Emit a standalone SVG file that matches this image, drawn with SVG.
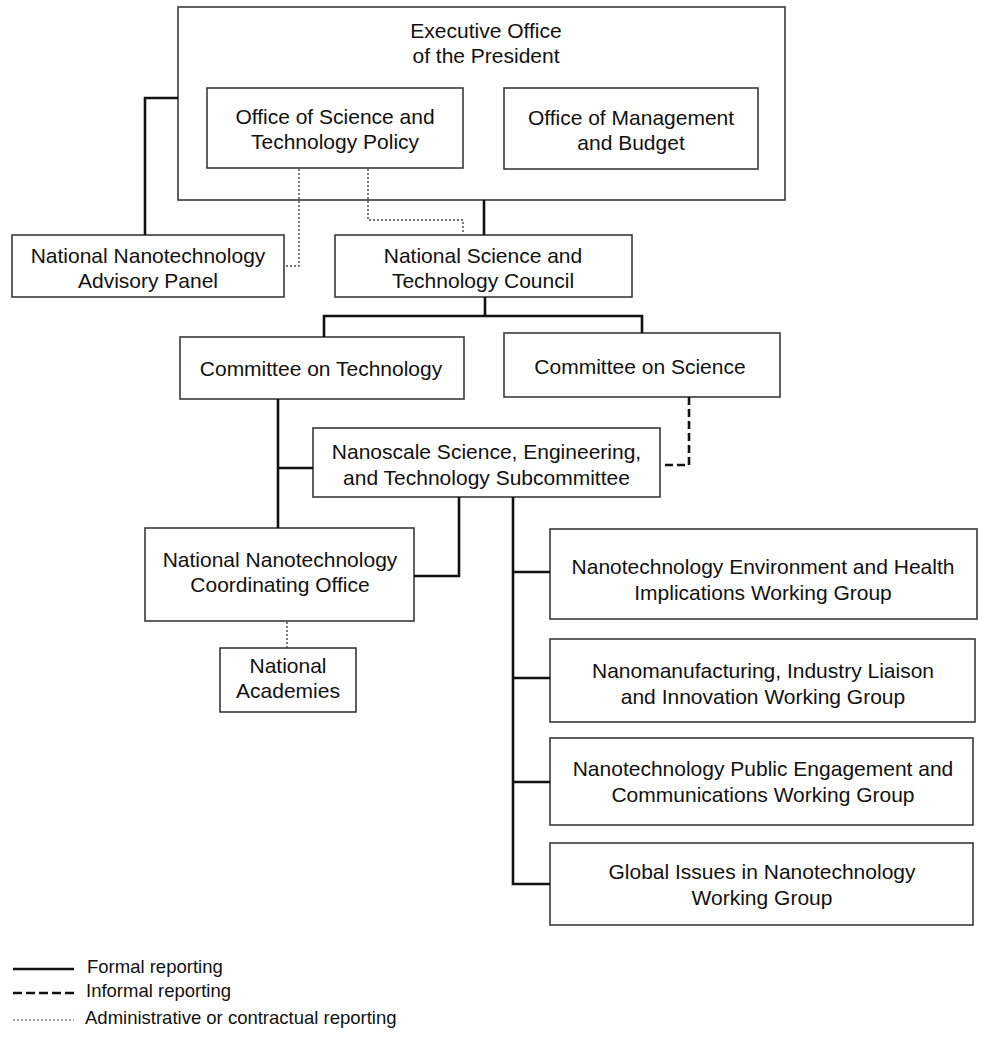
<svg xmlns="http://www.w3.org/2000/svg" width="982" height="1038" viewBox="0 0 982 1038">
<style>
.box{fill:#fff;stroke:#3a3a3a;stroke-width:1.6}
.t{font-family:"Liberation Sans",Arial,sans-serif;font-size:21px;fill:#111;text-anchor:middle}
.lt{font-family:"Liberation Sans",Arial,sans-serif;font-size:18.5px;fill:#111}
.solid{fill:none;stroke:#111;stroke-width:2.6}
.dash{fill:none;stroke:#111;stroke-width:2.6;stroke-dasharray:8 4}
.dot{fill:none;stroke:#444;stroke-width:1.4;stroke-dasharray:2 2}
</style>
<rect width="982" height="1038" fill="#fff"/>
<g id="exec">
<rect class="box" x="178" y="7" width="607" height="193"/>
<text class="t" x="486" y="37.5">Executive Office</text>
<text class="t" x="486" y="62.5">of the President</text>
</g>
<g id="ostp">
<rect class="box" x="207" y="88" width="256" height="80"/>
<text class="t" x="335" y="124">Office of Science and</text>
<text class="t" x="335" y="149">Technology Policy</text>
</g>
<g id="omb">
<rect class="box" x="504" y="88" width="254" height="81"/>
<text class="t" x="631" y="125">Office of Management</text>
<text class="t" x="631" y="150">and Budget</text>
</g>
<g id="nnap">
<rect class="box" x="12" y="235" width="272" height="62"/>
<text class="t" x="148" y="263">National Nanotechnology</text>
<text class="t" x="148" y="288">Advisory Panel</text>
</g>
<g id="nstc">
<rect class="box" x="335" y="235" width="297" height="62"/>
<text class="t" x="483" y="263">National Science and</text>
<text class="t" x="483" y="288">Technology Council</text>
</g>
<g id="cot">
<rect class="box" x="180" y="337" width="284" height="62"/>
<text class="t" x="321" y="376">Committee on Technology</text>
</g>
<g id="cos">
<rect class="box" x="504" y="333" width="276" height="64"/>
<text class="t" x="640" y="374">Committee on Science</text>
</g>
<g id="nset">
<rect class="box" x="313" y="428" width="347" height="69"/>
<text class="t" x="486.5" y="459">Nanoscale Science, Engineering,</text>
<text class="t" x="486.5" y="485">and Technology Subcommittee</text>
</g>
<g id="nnco">
<rect class="box" x="145" y="528" width="269" height="93"/>
<text class="t" x="280" y="567">National Nanotechnology</text>
<text class="t" x="280" y="592">Coordinating Office</text>
</g>
<g id="na">
<rect class="box" x="220" y="648" width="136" height="64"/>
<text class="t" x="288" y="673">National</text>
<text class="t" x="288" y="698">Academies</text>
</g>
<g id="wg1">
<rect class="box" x="550" y="529" width="427" height="90"/>
<text class="t" x="763" y="574">Nanotechnology Environment and Health</text>
<text class="t" x="763" y="600">Implications Working Group</text>
</g>
<g id="wg2">
<rect class="box" x="550" y="639" width="425" height="83"/>
<text class="t" x="763" y="678">Nanomanufacturing, Industry Liaison</text>
<text class="t" x="763" y="704">and Innovation Working Group</text>
</g>
<g id="wg3">
<rect class="box" x="550" y="738" width="423" height="87"/>
<text class="t" x="763" y="776">Nanotechnology Public Engagement and</text>
<text class="t" x="763" y="802">Communications Working Group</text>
</g>
<g id="wg4">
<rect class="box" x="550" y="843" width="423" height="82"/>
<text class="t" x="762" y="879">Global Issues in Nanotechnology</text>
<text class="t" x="762" y="905">Working Group</text>
</g>
<g id="connectors">
<path class="solid" d="M178 98H145V235"/>
<path class="solid" d="M484 200V235"/>
<path class="dot" d="M299 169V266H285"/>
<path class="dot" d="M368 169V220H463V234"/>
<path class="solid" d="M485 297V316"/>
<path class="solid" d="M324 337V316H642V333"/>
<path class="solid" d="M278 399V528"/>
<path class="solid" d="M278 468H313"/>
<path class="dash" d="M689 397V465H661"/>
<path class="solid" d="M459 497V576H414"/>
<path class="solid" d="M513 497V884H550"/>
<path class="solid" d="M513 572H550M513 678H550M513 782H550"/>
<path class="dot" d="M287 622V648"/>
</g>
<g id="legend">
<path class="solid" d="M13 969H74"/>
<path class="dash" d="M13 993H74" style="stroke-dasharray:9 4"/>
<path class="dot" d="M13 1020H74" style="stroke-width:1.2"/>
<text class="lt" x="87" y="973">Formal reporting</text>
<text class="lt" x="86" y="997">Informal reporting</text>
<text class="lt" x="85" y="1024">Administrative or contractual reporting</text>
</g>
</svg>
